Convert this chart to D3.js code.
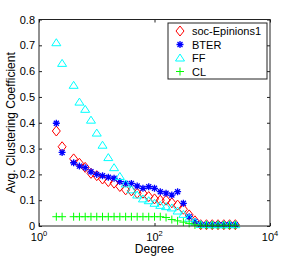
<!DOCTYPE html>
<html><head><meta charset="utf-8">
<script src="https://cdn.jsdelivr.net/npm/d3@7"></script>
<style>body{margin:0;background:#fff}svg{display:block}text{font-family:"Liberation Sans",Arial,sans-serif}</style>
</head><body>
<script>
// log10(degree) bin exponents (tenths of a decade)
const binExp = [3,4,6,7,8,9,10,11,12,13,14,15,16,17,18,19,20,21,22,23,24,25,26,27,28,29,30,31,32,33,34];
const epinions = [0.368,0.307,0.26,0.243,0.227,0.204,0.195,0.182,0.172,0.166,0.153,0.14,0.136,0.127,0.127,0.114,0.105,0.1,0.1,0.09,0.081,0.065,0.043,0.02,0.005,0.005,0.005,0.005,0.005,0.005,0.005];
const bter = [0.398,0.285,0.245,0.232,0.226,0.21,0.2,0.195,0.189,0.185,0.172,0.165,0.165,0.155,0.146,0.152,0.146,0.133,0.127,0.12,0.133,0.088,0.036,0.017,0.006,0.005,0.005,0.005,0.005,0.005,0.005];
const ff = [0.71,0.63,0.545,0.48,0.452,0.41,0.36,0.313,0.265,0.226,0.192,0.163,0.14,0.12,0.105,0.098,0.088,0.08,0.075,0.07,0.058,0.045,0.03,0.015,0.006,0.005,0.005,0.005,0.005,0.005,0.005];
const cl = [0.036,0.036,0.036,0.036,0.036,0.036,0.036,0.036,0.036,0.036,0.036,0.036,0.036,0.036,0.036,0.036,0.036,0.036,0.033,0.025,0.02,0.015,0.01,0.004,0.003,0.003,0.003,0.003,0.003,0.003,0.003];
const seriesNames = ["soc-Epinions1","BTER","FF","CL"];
const seriesColors = ["#ff0000","#0000ff","#00ffff","#00ff00"];
const seriesValues = [epinions, bter, ff, cl];
const xTickExps = [0,2,4];
const yTicks = [0,0.1,0.2,0.3,0.4,0.5,0.6,0.7,0.8];

const W=299,H=257;
const m={l:39,r:29,t:19.5,b:31};
const svg=d3.select("body").append("svg").attr("width",W).attr("height",H);
const x=d3.scaleLog().domain([1,1e4]).range([m.l,W-m.r]);
const y=d3.scaleLinear().domain([0,0.8]).range([H-m.b,m.t]);
const degrees = binExp.map(e=>Math.pow(10,e/10));

const plot=svg.append("g");
const symbols={
  "soc-Epinions1": (g,c)=>g.append("path").attr("d","M0,-5L4,0L0,5L-4,0Z").attr("fill","none").attr("stroke",c).attr("stroke-width",1),
  "BTER": (g,c)=>g.append("path").attr("d","M-3.5,0H3.5M0,-3.5V3.5M-2.5,-2.5L2.5,2.5M-2.5,2.5L2.5,-2.5").attr("stroke",c).attr("stroke-width",1.3),
  "FF": (g,c)=>g.append("path").attr("d","M0,-4L4.5,3L-4.5,3Z").attr("fill","none").attr("stroke",c).attr("stroke-width",1),
  "CL": (g,c)=>g.append("path").attr("d","M-4,0H4M0,-4V4").attr("stroke",c).attr("stroke-width",1)
};
seriesNames.forEach((name,si)=>{
  const vals=seriesValues[si];
  vals.forEach((v,i)=>{
    const g=plot.append("g").attr("transform",`translate(${x(degrees[i])},${y(v)})`);
    symbols[name](g,seriesColors[si]);
  });
});

// frame
const fg=svg.append("g");
fg.append("rect").attr("x",m.l).attr("y",m.t).attr("width",W-m.r-m.l).attr("height",H-m.b-m.t).attr("fill","none").attr("stroke","#222").attr("stroke-width",1);
// axes
const yAx=d3.axisLeft(y).tickValues(yTicks).tickSize(-3).tickPadding(4).tickFormat(d=>d===0?"0":d3.format(".1f")(d));
const ga=fg.append("g").attr("transform",`translate(${m.l},0)`).call(yAx);
const yAxR=d3.axisRight(y).tickValues(yTicks).tickSize(-3).tickFormat("");
fg.append("g").attr("transform",`translate(${W-m.r},0)`).call(yAxR);
const xAx=d3.axisBottom(x).tickValues(xTickExps.map(e=>Math.pow(10,e))).tickSize(-3).tickFormat("");
fg.append("g").attr("transform",`translate(0,${H-m.b})`).call(xAx);
fg.append("g").attr("transform",`translate(0,${m.t})`).call(d3.axisTop(x).tickValues(xTickExps.map(e=>Math.pow(10,e))).tickSize(-3).tickFormat(""));
fg.selectAll(".domain").remove();
fg.selectAll(".tick line").attr("stroke","#222");
ga.selectAll("text").attr("font-size",11).attr("fill","#000").attr("font-family","Liberation Sans, Arial, sans-serif");
// x labels with superscript
xTickExps.forEach(e=>{
  const t=fg.append("text").attr("x",x(Math.pow(10,e))).attr("y",241).attr("text-anchor","middle").attr("font-size",11);
  t.append("tspan").text("10");
  t.append("tspan").attr("dy",-5).attr("font-size",7.5).text(e);
});
svg.append("text").attr("x",(m.l+W-m.r)/2).attr("y",253).attr("text-anchor","middle").attr("font-size",12).text("Degree");
svg.append("text").attr("transform",`translate(15,${(m.t+H-m.b)/2}) rotate(-90)`).attr("text-anchor","middle").attr("font-size",12).text("Avg. Clustering Coefficient");

// legend
const lg=svg.append("g").attr("transform","translate(168,23)");
lg.append("rect").attr("width",99).attr("height",56).attr("fill","#fff").attr("stroke","#222");
seriesNames.forEach((name,i)=>{
  const g=lg.append("g").attr("transform",`translate(12,${8+i*13.5})`);
  symbols[name](g,seriesColors[i]);
  lg.append("text").attr("x",24).attr("y",8+i*13.5+4).attr("font-size",11).text(name);
});
</script>
</body></html>
